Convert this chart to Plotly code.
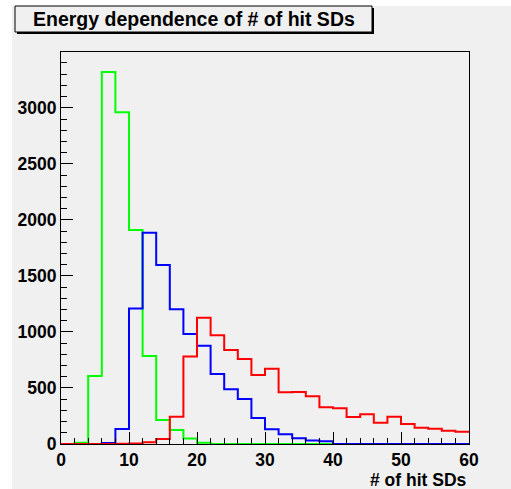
import plotly.graph_objects as go

# ---- data (bin width 2, range 0-60) ----
bin_edges = list(range(0, 62, 2))
green_counts = [0, 12, 607, 3320, 2960, 1910, 785, 214, 125, 48, 12, 0, 0, 0, 0,
                0, 0, 0, 0, 0, 0, 0, 0, 0, 0, 0, 0, 0, 0, 0]
blue_counts = [0, 0, 0, 8, 134, 1210, 1885, 1598, 1203, 982, 877, 625, 488, 402, 232,
               131, 87, 51, 32, 24, 0, 0, 0, 0, 0, 0, 0, 0, 0, 0]
red_counts = [0, 0, 0, 0, 2, 5, 15, 45, 244, 780, 1127, 970, 839, 759, 616,
              672, 461, 464, 425, 327, 318, 241, 265, 190, 244, 179, 146, 137, 119, 110]

title_text = "Energy dependence of # of hit SDs"
x_title = "# of hit SDs"
x_ticks = [0, 10, 20, 30, 40, 50, 60]
y_ticks = [0, 500, 1000, 1500, 2000, 2500, 3000]

W, H = 511, 489
L, R, T, B = 61, 42, 52, 45
pw, ph = W - L - R, H - T - B
def px_x(p):
    return (p - L) / pw
def px_y(p):
    return (H - B - p) / ph

GRAY = "#f0f0f0"
FONT = "Liberation Sans, Arial, sans-serif"

fig = go.Figure()
for counts, col in [(green_counts, "#00ff00"), (blue_counts, "#0000ff"), (red_counts, "#ff0000")]:
    fig.add_trace(go.Scatter(
        x=bin_edges, y=counts + [counts[-1]], mode="lines",
        line=dict(color=col, width=2, shape="hv"), showlegend=False, hoverinfo="skip"))

shapes = [
    # canvas gray area
    dict(type="rect", xref="paper", yref="paper", x0=px_x(12), x1=px_x(W + 5),
         y0=px_y(6), y1=px_y(H + 5), fillcolor=GRAY, line=dict(width=0), layer="below"),
    # title box shadow
    dict(type="rect", xref="paper", yref="paper", x0=px_x(17), x1=px_x(374),
         y0=px_y(8), y1=px_y(34), fillcolor="#000000", line=dict(width=0)),
    # title box
    dict(type="rect", xref="paper", yref="paper", x0=px_x(15), x1=px_x(372),
         y0=px_y(6), y1=px_y(32), fillcolor=GRAY, line=dict(color="#000000", width=1)),
]

annotations = [
    dict(text="<b>" + title_text + "</b>", xref="paper", yref="paper",
         x=px_x(193.5), y=px_y(19.5), xanchor="center", yanchor="middle",
         showarrow=False, font=dict(family=FONT, size=19.5, color="#000000")),
    dict(text="<b>" + x_title + "</b>", xref="paper", yref="paper",
         x=px_x(469), y=px_y(479.5), xanchor="right", yanchor="middle",
         showarrow=False, font=dict(family=FONT, size=17.5, color="#000000")),
]

fig.update_layout(
    width=W, height=H, margin=dict(l=L, r=R, t=T, b=B),
    paper_bgcolor="#ffffff", plot_bgcolor=GRAY,
    shapes=shapes, annotations=annotations, showlegend=False,
    font=dict(family=FONT, size=17.5, color="#000000"),
)
fig.update_xaxes(
    range=[0, 60], tickvals=x_ticks, ticktext=["<b>%d</b>" % v for v in x_ticks],
    ticks="inside", ticklen=12, tickwidth=1, tickcolor="#000000",
    minor=dict(ticks="inside", dtick=2, ticklen=6, tickcolor="#000000", showgrid=False),
    showline=True, linecolor="#000000", linewidth=1, mirror=True,
    showgrid=False, zeroline=False, tickfont=dict(family=FONT, size=17.5),
)
fig.update_yaxes(
    range=[0, 3498], tickvals=y_ticks, ticktext=["<b>%d</b>" % v for v in y_ticks],
    ticks="inside", ticklen=12, tickwidth=1, tickcolor="#000000",
    minor=dict(ticks="inside", dtick=100, ticklen=6, tickcolor="#000000", showgrid=False),
    showline=True, linecolor="#000000", linewidth=1, mirror=True,
    showgrid=False, zeroline=False, tickfont=dict(family=FONT, size=17.5),
)

fig.write_html("out.html")
